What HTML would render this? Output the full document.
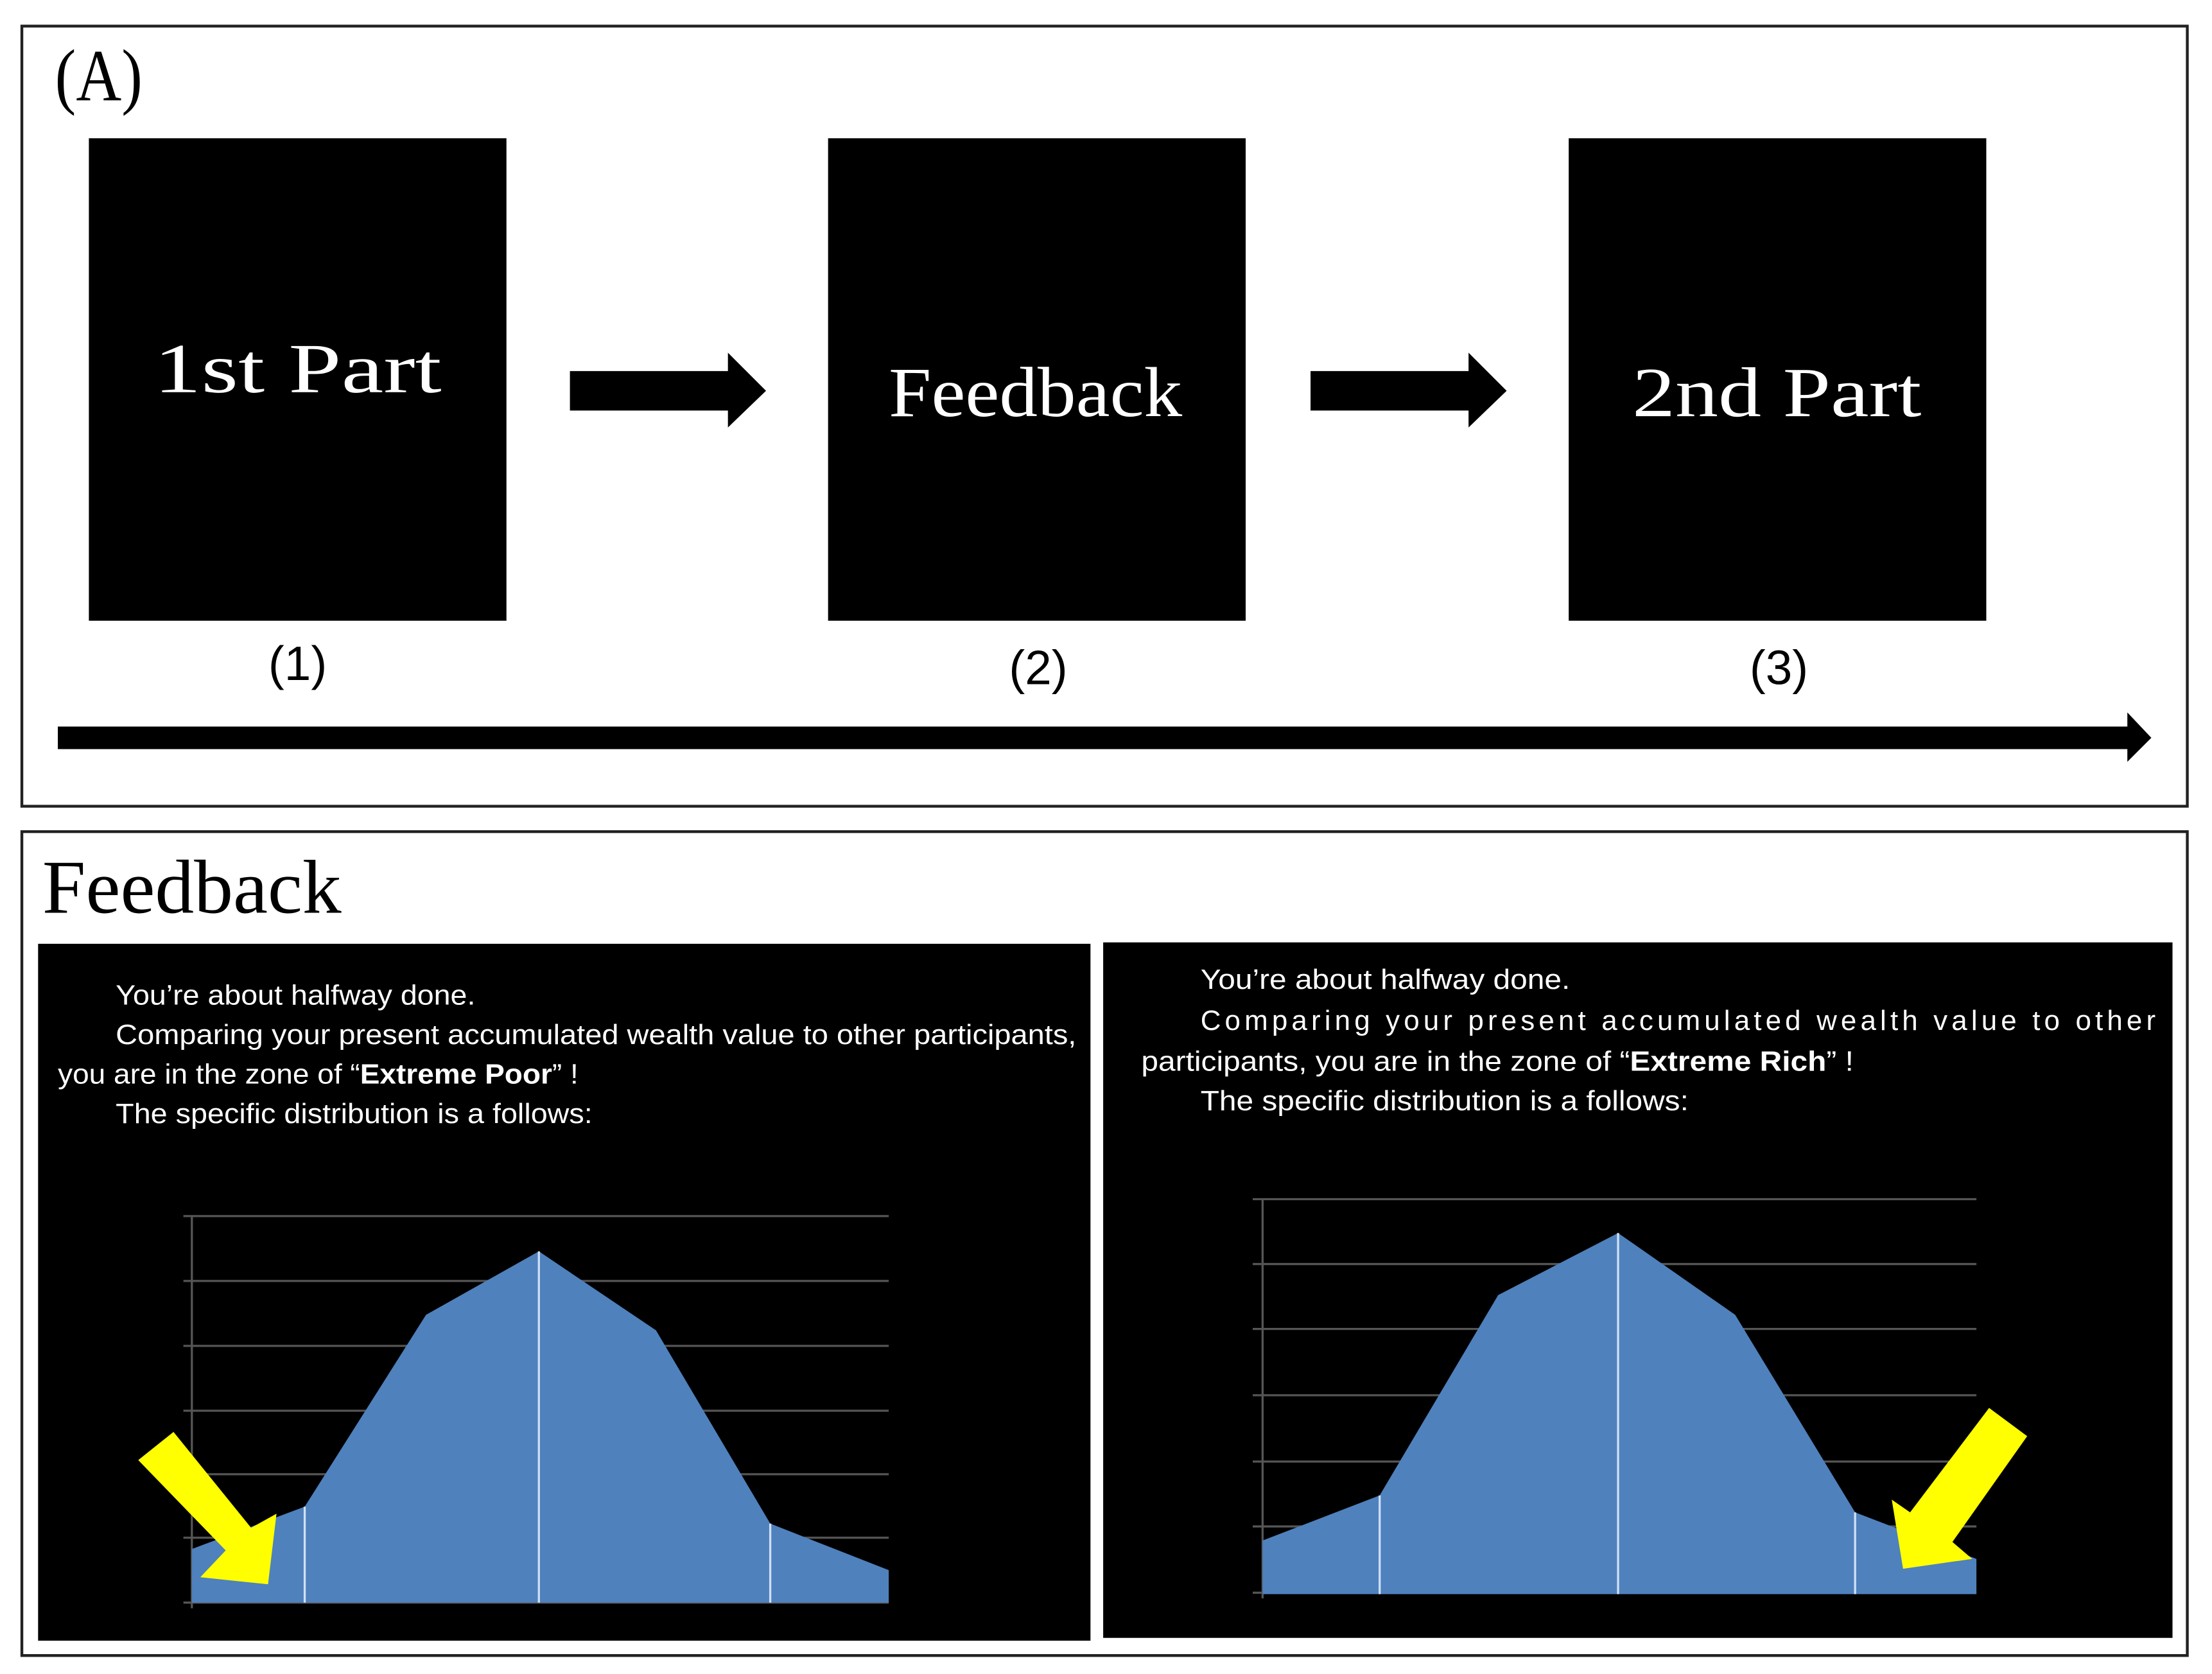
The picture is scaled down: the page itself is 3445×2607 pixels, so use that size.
<!DOCTYPE html>
<html><head><meta charset="utf-8"><style>
html,body{margin:0;padding:0;background:#fff;}
svg{display:block;}
</style></head><body>
<svg width="3445" height="2607" viewBox="0 0 1568 1186.6" preserveAspectRatio="none" xmlns="http://www.w3.org/2000/svg">
<rect x="0" y="0" width="1568" height="1187" fill="#fff"/>
<!-- Panel A -->
<rect x="15.5" y="18.5" width="1535" height="553" fill="none" stroke="#222" stroke-width="2"/>
<text x="39" y="71" font-family="Liberation Serif, serif" font-size="52" textLength="62" lengthAdjust="spacingAndGlyphs">(A)</text>
<rect x="63" y="98" width="296" height="342" fill="#000"/>
<rect x="587" y="98" width="296" height="342" fill="#000"/>
<rect x="1112" y="98" width="296" height="342" fill="#000"/>
<g font-family="Liberation Serif, serif" font-size="50" fill="#fff">
<text x="109" y="278" textLength="204" lengthAdjust="spacingAndGlyphs">1st Part</text>
<text x="630" y="295" textLength="208" lengthAdjust="spacingAndGlyphs">Feedback</text>
<text x="1157" y="295" textLength="205" lengthAdjust="spacingAndGlyphs">2nd Part</text>
</g>
<polygon points="404,263 516,263 516,250 543,277 516,303 516,291 404,291" fill="#000"/>
<polygon points="929,263 1041,263 1041,250 1068,277 1041,303 1041,291 929,291" fill="#000"/>
<g font-family="Liberation Sans, sans-serif" font-size="34" text-anchor="middle">
<text x="211" y="482">(1)</text>
<text x="736" y="485">(2)</text>
<text x="1261" y="485">(3)</text>
</g>
<polygon points="41,515 1508,515 1508,505 1525,523 1508,540 1508,531 41,531" fill="#000"/>
<!-- Panel B -->
<rect x="15.5" y="589.5" width="1535" height="584" fill="none" stroke="#222" stroke-width="2"/>
<text x="30" y="647" font-family="Liberation Serif, serif" font-size="54" textLength="212" lengthAdjust="spacingAndGlyphs">Feedback</text>
<rect x="27" y="669" width="746" height="494" fill="#000"/>
<rect x="782" y="668" width="758" height="493" fill="#000"/>
<g font-family="Liberation Sans, sans-serif" font-size="20" fill="#fff">
<text x="82" y="712" textLength="255" lengthAdjust="spacingAndGlyphs">You’re about halfway done.</text>
<text x="82" y="740" textLength="681" lengthAdjust="spacingAndGlyphs">Comparing your present accumulated wealth value to other participants,</text>
<text x="41" y="768" textLength="369" lengthAdjust="spacingAndGlyphs">you are in the zone of “<tspan font-weight="bold">Extreme Poor</tspan>” !</text>
<text x="82" y="796" textLength="338" lengthAdjust="spacingAndGlyphs">The specific distribution is a follows:</text>
<text x="851" y="701" textLength="262" lengthAdjust="spacingAndGlyphs">You’re about halfway done.</text>
<text x="851" y="730" textLength="677" lengthAdjust="spacing">Comparing your present accumulated wealth value to other</text>
<text x="809" y="759" textLength="505" lengthAdjust="spacingAndGlyphs">participants,  you are in the zone of “<tspan font-weight="bold">Extreme Rich</tspan>” !</text>
<text x="851" y="787" textLength="346" lengthAdjust="spacingAndGlyphs">The specific distribution is a follows:</text>
</g>
<!-- Left chart -->
<g stroke="#555" stroke-width="1.5">
<line x1="130" y1="862" x2="630" y2="862"/><line x1="130" y1="908" x2="630" y2="908"/>
<line x1="130" y1="954" x2="630" y2="954"/><line x1="130" y1="1000" x2="630" y2="1000"/>
<line x1="130" y1="1045" x2="630" y2="1045"/><line x1="130" y1="1090" x2="630" y2="1090"/>
<line x1="130" y1="1136" x2="630" y2="1136"/><line x1="136" y1="862" x2="136" y2="1140"/>
</g>
<polygon points="136,1098 216,1068 302,932 382,887 465,943 546,1080 630,1113 630,1136 136,1136" fill="#4f81bd"/>
<g stroke="#cfe0f5" stroke-width="1.5"><line x1="216" y1="1068" x2="216" y2="1136"/><line x1="382" y1="887" x2="382" y2="1136"/><line x1="546" y1="1080" x2="546" y2="1136"/></g>
<polygon points="98,1035 123,1015 178,1083 196,1073 190,1123 142,1118 160,1099" fill="#ffff00"/>
<!-- Right chart -->
<g stroke="#555" stroke-width="1.5">
<line x1="888" y1="850" x2="1401" y2="850"/><line x1="888" y1="896" x2="1401" y2="896"/>
<line x1="888" y1="942" x2="1401" y2="942"/><line x1="888" y1="989" x2="1401" y2="989"/>
<line x1="888" y1="1036" x2="1401" y2="1036"/><line x1="888" y1="1082" x2="1401" y2="1082"/>
<line x1="888" y1="1129" x2="1401" y2="1129"/><line x1="895" y1="850" x2="895" y2="1133"/>
</g>
<polygon points="895,1092 978,1060 1062,918 1147,874 1230,932 1315,1072 1401,1105 1401,1130 895,1130" fill="#4f81bd"/>
<g stroke="#cfe0f5" stroke-width="1.5"><line x1="978" y1="1060" x2="978" y2="1130"/><line x1="1147" y1="874" x2="1147" y2="1130"/><line x1="1315" y1="1072" x2="1315" y2="1130"/></g>
<polygon points="1410,998 1437,1018 1384,1093 1398,1105 1349,1112 1341,1063 1354,1072" fill="#ffff00"/>
</svg>
</body></html>
